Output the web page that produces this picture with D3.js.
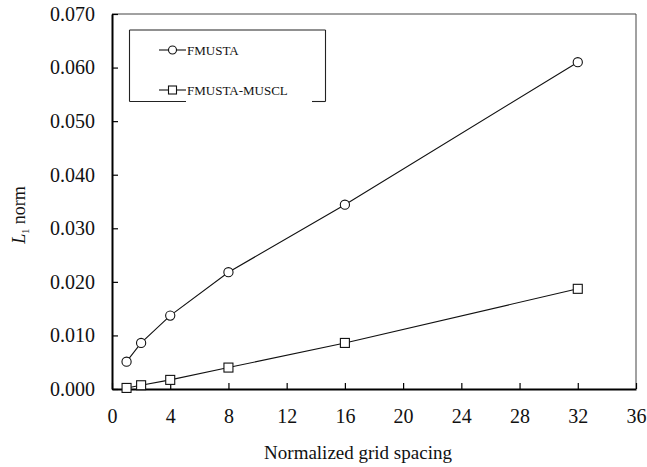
<!DOCTYPE html>
<html>
<head>
<meta charset="utf-8">
<script src="https://cdn.jsdelivr.net/npm/d3@7"></script>
<style>
  html, body { margin: 0; padding: 0; background: #fff; }
  svg, svg text { font-family: "Liberation Serif", "Times New Roman", serif; }
</style>
</head>
<body>
<svg id="chart" width="647" height="467"></svg>
<script>
// Grid spacing levels and L1 error norms for the two schemes
const spacing = [1, 2, 4, 8, 16, 32];
const fmusta = [0.0051, 0.0086, 0.0137, 0.0218, 0.0344, 0.0610];
const fmustaMuscl = [0.0002, 0.0007, 0.0017, 0.0040, 0.0086, 0.0187];
const seriesNames = ["FMUSTA", "FMUSTA-MUSCL"];
const xTicks = [0, 4, 8, 12, 16, 20, 24, 28, 32, 36];
const yTicks = [0, 0.01, 0.02, 0.03, 0.04, 0.05, 0.06, 0.07];

const serif = '"Liberation Serif", "Times New Roman", serif';
const svg = d3.select("#chart");
const m = { left: 112, right: 636, top: 14, bottom: 389 };

const x = d3.scaleLinear().domain([0, 36]).range([m.left, m.right]);
const y = d3.scaleLinear().domain([0, 0.07]).range([m.bottom, m.top]);

// Frame: thin top/right edges
svg.append("line").attr("x1", m.left).attr("x2", m.right).attr("y1", m.top).attr("y2", m.top)
  .attr("stroke", "#444").attr("stroke-width", 1);
svg.append("line").attr("x1", m.right).attr("x2", m.right).attr("y1", m.top).attr("y2", m.bottom)
  .attr("stroke", "#444").attr("stroke-width", 1);

// Bottom axis with inward ticks
const xAxis = svg.append("g").attr("transform", `translate(0,${m.bottom})`)
  .call(d3.axisBottom(x).tickValues(xTicks).tickSizeInner(-6).tickSizeOuter(0).tickPadding(20));
xAxis.attr("font-family", null).style("font-family", serif);
xAxis.select(".domain").attr("stroke", "#000").attr("stroke-width", 2);
xAxis.selectAll(".tick line").attr("stroke", "#000").attr("stroke-width", 1.2);
xAxis.selectAll(".tick text").attr("font-size", 20).attr("fill", "#111").style("font-family", serif);

// Left axis with inward ticks
const yAxis = svg.append("g").attr("transform", `translate(${m.left},0)`)
  .call(d3.axisLeft(y).tickValues(yTicks).tickFormat(d3.format(".3f")).tickSizeInner(-6).tickSizeOuter(0).tickPadding(17));
yAxis.attr("font-family", null).style("font-family", serif);
yAxis.select(".domain").attr("stroke", "#000").attr("stroke-width", 2);
yAxis.selectAll(".tick line").attr("stroke", "#000").attr("stroke-width", 1.2);
yAxis.selectAll(".tick text").attr("font-size", 20).attr("fill", "#111").style("font-family", serif);

// Axis titles
svg.append("text").attr("x", 358).attr("y", 459)
  .attr("text-anchor", "middle").attr("font-size", 19).attr("fill", "#111")
  .style("font-family", serif)
  .text("Normalized grid spacing");

const yl = svg.append("text").attr("transform", "translate(25,215) rotate(-90)")
  .attr("text-anchor", "middle").attr("font-size", 18).attr("fill", "#111")
  .style("font-family", serif);
yl.append("tspan").attr("font-style", "italic").text("L");
yl.append("tspan").attr("font-size", 10).attr("dy", 4).text("1");
yl.append("tspan").attr("dy", -4).text(" norm");

// Series lines and markers
const line = d3.line().x((d, i) => x(spacing[i])).y(d => y(d));

svg.append("path").datum(fmusta).attr("d", line)
  .attr("fill", "none").attr("stroke", "#111").attr("stroke-width", 1.1);
svg.append("path").datum(fmustaMuscl).attr("d", line)
  .attr("fill", "none").attr("stroke", "#111").attr("stroke-width", 1.1);

svg.selectAll("circle.pt").data(fmusta).enter().append("circle")
  .attr("class", "pt").attr("cx", (d, i) => x(spacing[i])).attr("cy", d => y(d))
  .attr("r", 4.6).attr("fill", "#fff").attr("stroke", "#111").attr("stroke-width", 1.1);

const s = 9;
svg.selectAll("rect.pt").data(fmustaMuscl).enter().append("rect")
  .attr("class", "pt").attr("x", (d, i) => x(spacing[i]) - s / 2).attr("y", d => y(d) - s / 2)
  .attr("width", s).attr("height", s).attr("fill", "#fff").attr("stroke", "#111").attr("stroke-width", 1.1);

// Legend box
const lg = { x0: 129.5, y0: 30, x1: 325.5, y1: 101.5 };
const lgG = svg.append("g").attr("stroke", "#222").attr("stroke-width", 1.1);
lgG.append("line").attr("x1", lg.x0).attr("x2", lg.x1).attr("y1", lg.y0).attr("y2", lg.y0);
lgG.append("line").attr("x1", lg.x0).attr("x2", lg.x0).attr("y1", lg.y0).attr("y2", lg.y1);
lgG.append("line").attr("x1", lg.x1).attr("x2", lg.x1).attr("y1", lg.y0).attr("y2", lg.y1);
lgG.append("line").attr("x1", lg.x0).attr("x2", 186).attr("y1", lg.y1).attr("y2", lg.y1);
lgG.append("line").attr("x1", 312).attr("x2", lg.x1).attr("y1", lg.y1).attr("y2", lg.y1);

const legendRows = [50, 90];
seriesNames.forEach((name, i) => {
  const ly = legendRows[i];
  svg.append("line").attr("x1", 159).attr("x2", 186).attr("y1", ly).attr("y2", ly)
    .attr("stroke", "#111").attr("stroke-width", 1.1);
  if (i === 0) {
    svg.append("circle").attr("cx", 172.5).attr("cy", ly).attr("r", 4)
      .attr("fill", "#fff").attr("stroke", "#111").attr("stroke-width", 1.1);
  } else {
    svg.append("rect").attr("x", 168.5).attr("y", ly - 4).attr("width", 8).attr("height", 8)
      .attr("fill", "#fff").attr("stroke", "#111").attr("stroke-width", 1.1);
  }
  svg.append("text").attr("x", 187).attr("y", ly + 4.5).attr("font-size", 13).attr("fill", "#111")
    .style("font-family", serif)
    .text(name);
});
</script>
</body>
</html>
